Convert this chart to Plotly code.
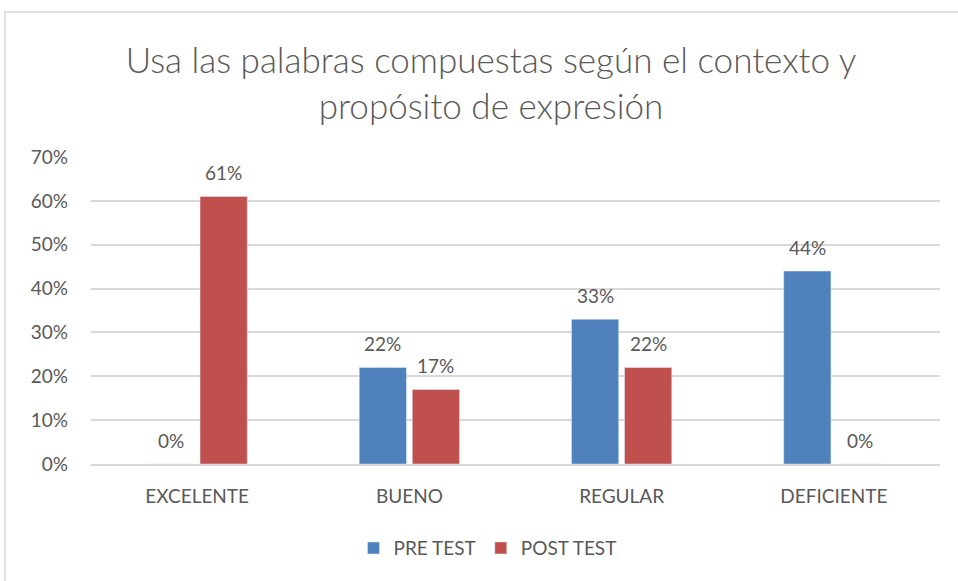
import plotly.graph_objects as go

categories = ["EXCELENTE", "BUENO", "REGULAR", "DEFICIENTE"]
pre_test = [0.00, 0.22, 0.33, 0.44]
post_test = [0.61, 0.17, 0.22, 0.00]
series_names = ["PRE TEST", "POST TEST"]
title_text = "Usa las palabras compuestas según el contexto y<br>propósito de expresión"

FONT = "Lato, Carlito, Calibri, sans-serif"
GRAY = "#595959"
COLORS = ["#4F81BD", "#C0504D"]

fig = go.Figure()
for name, vals, col in zip(series_names, [pre_test, post_test], COLORS):
    fig.add_trace(go.Bar(x=categories, y=vals, name=name, marker_color=col))

# data labels, offset above bars like the original
annotations = []
for vals, xs in [(pre_test, -26.5), (post_test, 26.5)]:
    for c, v in zip(categories, vals):
        annotations.append(dict(x=c, y=v, xref="x", yref="y", text=f"{v:.0%}",
                                showarrow=False, xshift=xs, yshift=24,
                                yanchor="middle",
                                font=dict(size=19, color=GRAY, family=FONT)))

fig.update_layout(
    width=958, height=581,
    margin=dict(l=91, r=18, t=157, b=117, autoexpand=False),
    paper_bgcolor="white", plot_bgcolor="white",
    barmode="group", bargap=0.5, bargroupgap=0.11,
    font=dict(family=FONT, color=GRAY, size=19),
    title=dict(text=title_text, x=0.5125, xanchor="center", y=0.874, yanchor="middle",
               font=dict(size=35, color=GRAY, family=FONT, weight=300)),
    legend=dict(orientation="h", x=0.467, xanchor="center", y=-0.274, yanchor="middle",
                font=dict(size=19, color=GRAY, family=FONT), traceorder="normal",
                itemwidth=30),
    showlegend=True,
    annotations=annotations,
    shapes=[dict(type="rect", xref="paper", yref="paper",
                 x0=-0.1013, x1=1.05, y0=-0.45, y1=1.472,
                 line=dict(color="#D9D9D9", width=1.5), fillcolor="rgba(0,0,0,0)",
                 layer="below")],
)
fig.update_xaxes(showgrid=False, showline=True, linecolor="#D9D9D9", linewidth=1.5,
                 ticks="", tickfont=dict(size=19, color=GRAY, family=FONT),
                 ticklabelstandoff=14)
fig.update_yaxes(range=[0, 0.7], dtick=0.1, tickformat=".0%", showgrid=True,
                 gridcolor="#D9D9D9", gridwidth=1.5, zeroline=False, showline=False,
                 tickfont=dict(size=19, color=GRAY, family=FONT), ticklabelstandoff=22)

fig.write_html("out.html", config={"displayModeBar": False},
               post_script="document.body.style.margin='0';document.body.style.overflow='hidden';")
